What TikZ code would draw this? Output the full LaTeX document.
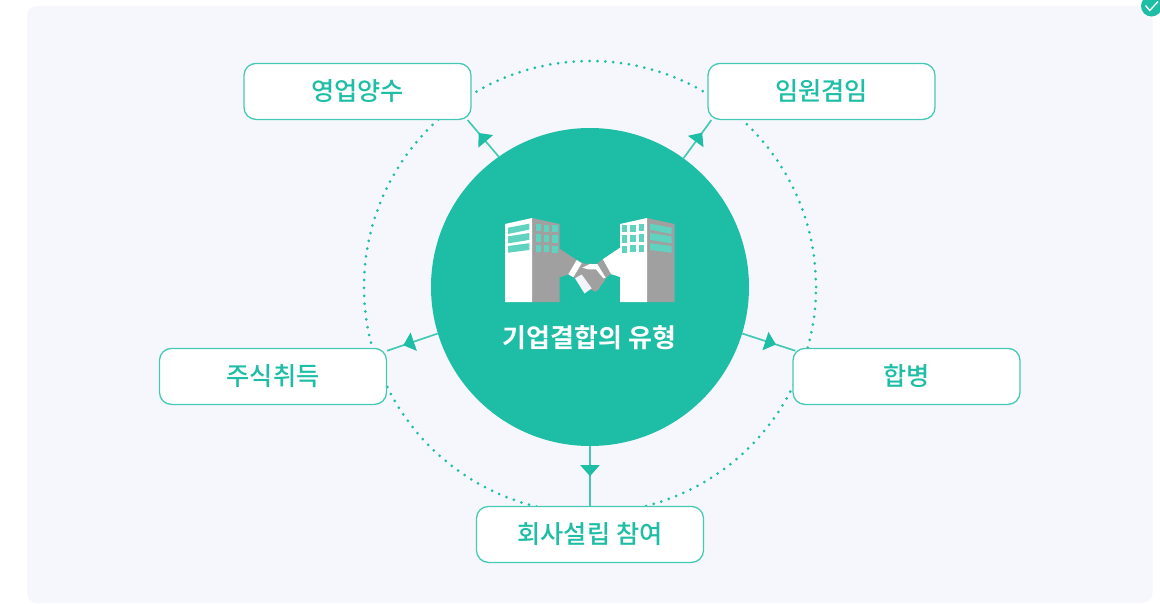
\documentclass[tikz,border=0pt]{standalone}
\usepackage{fontspec}
\newfontfamily\kr{Noto Sans CJK KR Medium}
\newfontfamily\krb{Noto Sans CJK KR Bold}
\usetikzlibrary{calc,arrows.meta,decorations.markings}
\definecolor{teal1}{HTML}{1EBDA5}
\definecolor{tealline}{HTML}{45C9B4}
\definecolor{panel}{HTML}{F6F7FC}
\definecolor{win}{HTML}{5FD3BF}
\definecolor{bgray}{HTML}{A0A0A0}
\definecolor{pale}{HTML}{F3F4FA}
\tikzset{
  panelbox/.style={fill=panel,draw=none,rounded corners=10pt},
  hubnode/.style={circle,fill=teal1,draw=none,minimum size=318pt,inner sep=0pt},
  ringnode/.style={circle,minimum size=452pt,inner sep=0pt,draw=teal1,line width=3pt,line cap=round,dash pattern=on 0pt off 7.9pt},
  itembox/.style={rectangle,draw=tealline,line width=1.3pt,fill=white,rounded corners=12pt,minimum width=227pt,minimum height=56pt,inner sep=0pt,text=teal1,font=\kr\fontsize{25.2}{30}\selectfont},
  conn/.style={draw=tealline,line width=1.7pt,postaction={decorate},decoration={markings,mark=at position #1 with {\arrow[teal1]{Triangle[length=11pt,width=19pt]}}}},
  bw/.style={fill=white,draw=none},
  bg/.style={fill=bgray,draw=none},
  wn/.style={fill=win,draw=none}
}
\begin{document}
\begin{tikzpicture}[x=1pt,y=-1pt]
\useasboundingbox (0,0) rectangle (1160,603);
\fill[white] (0,0) rectangle (1160,603);
\path[panelbox] (27,6) rectangle (1152.5,603);
% ring
\node[ringnode] (ring) at (590,287) {};
% nodes
\node[hubnode] (hub) at (590,287) {};
\node[itembox] (a) at (357.5,91.4) {영업양수};
\node[itembox] (b) at (821.5,91.4) {임원겸임};
\node[itembox] (c) at (273,376.4) {주식취득};
\node[itembox] (d) at (906.5,376.4) {합병};
\node[itembox] (e) at (590,534.4) {회사설립 참여};
% connectors
\draw[conn=31pt] (hub.125.8) -- ($(a.south east)+(-4,0)$);
\draw[conn=31.6pt] (hub.54.2) -- ($(b.south west)+(4,0)$);
\draw[conn=36.4pt] (hub.197) -- ($(c.north east)+(0,3)$);
\draw[conn=35.4pt] (hub.-17) -- ($(d.north west)+(3,3)$);
\draw[conn=30pt] (hub.south) -- (e.north);
% left building
\fill[bg] (532,218) -- (559.5,224) -- (559.5,248.7) -- (576.7,260) -- (568.3,274.3) -- (559.5,277.5) -- (559.5,302) -- (532,302) -- cycle;
\fill[bw] (505,224) -- (532,218) -- (532,302) -- (505,302) -- cycle;
\foreach \ya/\yb/\yc/\yd in {227.7/223.7/229.6/234, 236.4/233/239.9/243.4, 246/243.2/250/252.7}{
  \fill[wn] (508,\ya) -- (529.3,\yb) -- (529.3,\yc) -- (508,\yd) -- cycle;
}
\foreach \xx/\dy in {535.7/0,544/0.5,552.3/1}{
  \foreach \yy in {224,234.3,244.6}{
    \fill[wn] (\xx,\yy+\dy) rectangle (\xx+5.3,\yy+\dy+7.3);
  }
}
% right building
\fill[bg] (647,218) -- (674.5,224) -- (674.5,302) -- (647,302) -- cycle;
\fill[bw] (620,224) -- (647,218) -- (647,302) -- (620,302) -- (620,277) -- (610.7,274) -- (602.7,259.3) -- (620,247.7) -- cycle;
\foreach \ya/\yb/\yc/\yd in {227.7/223.7/229.6/234, 236.4/233/239.9/243.4, 246/243.2/250/252.7}{
  \fill[wn] (671.5,\ya) -- (650.2,\yb) -- (650.2,\yc) -- (671.5,\yd) -- cycle;
}
\foreach \xx/\dy in {638.5/0,630.2/0.5,621.9/1}{
  \foreach \yy in {224,234.3,244.6}{
    \fill[wn] (\xx,\yy+\dy) rectangle (\xx+5.3,\yy+\dy+7.3);
  }
}
% handshake
\fill[bg] (597.3,263.3) -- (602.7,259.3) -- (610.7,274) -- (605.7,278.3) -- cycle;
\fill[bg] (576.7,260) -- (584,263.5) -- (597,264) -- (606.7,276.7) -- (604,281.7) -- (601.7,284.3) -- (598.3,290) -- (595,291.7) -- (590,289) -- (581.7,275) -- (575,278) -- (568.3,274.3) -- cycle;
\fill[bw] (576.7,260) -- (581.7,263.3) -- (573.3,277.3) -- (568.3,274.3) -- cycle;
\fill[bw] (582.3,267.7) -- (590,264) -- (597.3,264) -- (605.7,277.7) -- (603.3,278.3) -- (596,269.3) -- (588.3,269.3) -- cycle;
\fill[pale] (575,278.3) -- (581.7,274.5) -- (591.7,288.3) -- (584.5,293.5) -- cycle;
\node[text=white,font=\krb\fontsize{26}{30}\selectfont,inner sep=0pt] (hl) at (589.5,337.4) {기업결합의 유형};
% check badge
\fill[teal1] (1151.5,6) circle[radius=10.5pt];
\draw[white,line width=1.3pt] (1145.5,5.5) -- (1149.8,10.5) -- (1158,1.5);
\end{tikzpicture}
\end{document}
